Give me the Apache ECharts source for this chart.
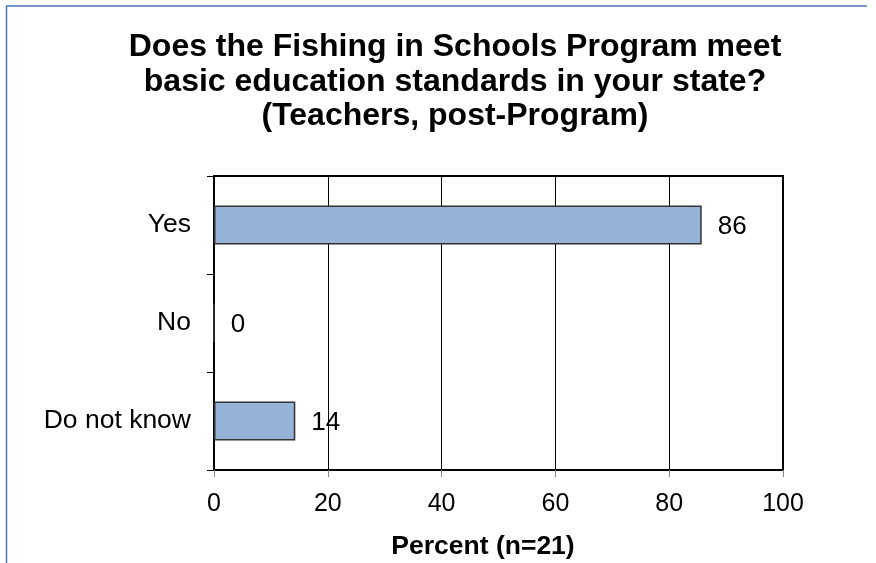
<!DOCTYPE html>
<html><head><meta charset="utf-8">
<script src="https://cdn.jsdelivr.net/npm/echarts@6/dist/echarts.min.js"></script>
<style>html,body{margin:0;padding:0;background:#fff}#c{width:876px;height:563px}</style>
</head><body><div id="c"></div>
<script>
const categories = ['Do not know', 'No', 'Yes'];
const values = [14.29, 0, 85.71];
const xTicks = [0, 20, 40, 60, 80, 100];
const titleLines = ['Does the Fishing in Schools Program meet', 'basic education standards in your state?', '(Teachers, post-Program)'];
const xName = 'Percent (n=21)';

const chart = echarts.init(document.getElementById('c'), null, {renderer: 'canvas'});
const font = '"Liberation Sans", Arial, sans-serif';
chart.setOption({
  animation: false,
  backgroundColor: '#fff',
  title: {
    text: titleLines.join('\n'),
    left: 450, top: 25, textAlign: 'center',
    textStyle: {fontFamily: font, fontSize: 32, fontWeight: 'bold', color: '#000', lineHeight: 34.5}
  },
  grid: {left: 214, right: 93, top: 176, bottom: 93, show: true, borderColor: '#000', borderWidth: 2, backgroundColor: 'transparent'},
  xAxis: {
    type: 'value', min: 0, max: 100, interval: 20,
    axisLine: {show: true, lineStyle: {color: '#000', width: 2}},
    axisTick: {show: true, length: 7, lineStyle: {color: '#888', width: 1}},
    splitLine: {show: true, lineStyle: {color: '#000', width: 1}},
    axisLabel: {fontFamily: font, fontSize: 25, color: '#000', margin: 22,
      formatter: v => xTicks.includes(v) ? String(v) : ''}
  },
  yAxis: {
    type: 'category', data: categories,
    axisLine: {show: true, lineStyle: {color: '#000', width: 2}},
    axisTick: {show: true, length: 7, lineStyle: {color: '#000', width: 1}},
    axisLabel: {fontFamily: font, fontSize: 26.5, color: '#000', margin: 23, padding: [4, 0, 0, 0]}
  },
  series: [{
    type: 'bar', data: values, barWidth: 39,
    itemStyle: {color: '#95b3d7', borderColor: '#333', borderWidth: 1.5},
    label: {show: true, position: 'right', distance: 16, offset: [0, 2], fontFamily: font, fontSize: 26, color: '#000',
      formatter: p => String(Math.round(p.value))}
  }],
  graphic: [
    {type: 'line', shape: {x1: 6, y1: 6, x2: 867, y2: 6}, style: {stroke: '#4a76b4', lineWidth: 1.5}},
    {type: 'line', shape: {x1: 6.5, y1: 6, x2: 6.5, y2: 563}, style: {stroke: '#4a76b4', lineWidth: 1.5}},
    {type: 'text', x: 483, y: 547, style: {text: xName, font: 'bold 26.5px ' + font, fill: '#000', textAlign: 'center', textVerticalAlign: 'middle'}}
  ]
});
</script></body></html>
